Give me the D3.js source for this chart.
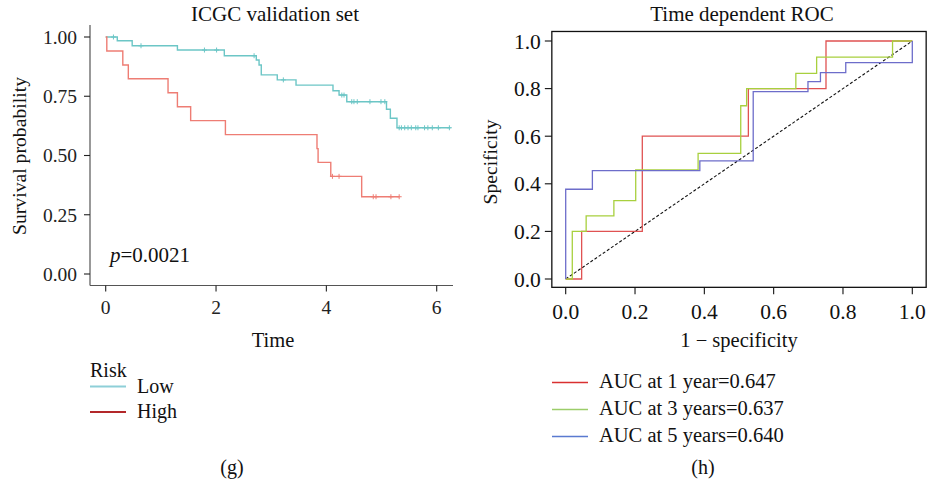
<!DOCTYPE html>
<html><head><meta charset="utf-8">
<script src="https://cdn.jsdelivr.net/npm/d3@7"></script>
<style>
body{margin:0;background:#fff;}
svg{font-family:"Liberation Serif","DejaVu Serif",serif;}
</style></head>
<body><svg id="c" width="929" height="485"></svg>
<script>
// ---------- Data: KM curves (panel g) ----------
const lowTimes = [0, 0.21, 0.48, 1.30, 2.15, 2.73, 2.78, 2.82, 3.11, 3.45, 4.12, 4.23, 4.37, 5.09, 5.16, 5.28];
const lowSurv  = [1, 0.984, 0.963, 0.945, 0.921, 0.903, 0.882, 0.840, 0.819, 0.797, 0.773, 0.755, 0.727, 0.695, 0.657, 0.617];
const lowEnd = 6.25;
const lowCensor = [0.14, 0.64, 1.79, 2.01, 2.69, 3.22, 4.28, 4.32, 4.46, 4.50, 4.56, 4.79, 4.99, 5.06,
                   5.32, 5.36, 5.42, 5.48, 5.54, 5.62, 5.66, 5.78, 5.84, 5.92, 6.03, 6.23];
const highTimes = [0, 0.02, 0.31, 0.41, 1.13, 1.30, 1.54, 2.17, 3.83, 3.85, 4.08, 4.64];
const highSurv  = [1, 0.941, 0.882, 0.824, 0.765, 0.706, 0.647, 0.588, 0.529, 0.471, 0.412, 0.326];
const highEnd = 5.32;
const highCensor = [4.11, 4.23, 4.85, 4.90, 5.17, 5.32];
const kmXTicks = [0, 2, 4, 6];
const kmYTicks = [0, 0.25, 0.5, 0.75, 1];
const riskGroups = ["Low", "High"];
const pValue = "=0.0021";

// ---------- Data: ROC curves (panel h) ----------
const roc1Fpr = [0, 0.046, 0.221, 0.527, 0.751, 1];
const roc1Tpr = [0, 0.2, 0.6, 0.8, 1.0, 1.0];
const roc3Fpr = [0, 0.019, 0.059, 0.139, 0.202, 0.382, 0.505, 0.522, 0.664, 0.724, 0.943, 1];
const roc3Tpr = [0, 0.2, 0.265, 0.329, 0.458, 0.528, 0.728, 0.8, 0.864, 0.932, 1.0, 1.0];
const roc5Fpr = [0, 0, 0.077, 0.387, 0.541, 0.699, 0.735, 0.808, 1.0];
const roc5Tpr = [0, 0.377, 0.455, 0.496, 0.787, 0.829, 0.867, 0.909, 1.0];
const rocLabels = ["AUC at 1 year=0.647", "AUC at 3 years=0.637", "AUC at 5 years=0.640"];
const rocTicks = [0, 0.2, 0.4, 0.6, 0.8, 1.0];

const svg = d3.select("#c");
const FS = 20.5;

// ================= Panel g =================
const kx = d3.scaleLinear().domain([0, 6]).range([105.7, 436.7]);
const ky = d3.scaleLinear().domain([0, 1]).range([274, 37]);
const kmLeft = 90, kmBottom = 285.5, kmRight = 453, kmTop = 25;
const lowCol = "#6cc6c6", highCol = "#ee7d74";

svg.append("text").attr("x", 275).attr("y", 21).attr("text-anchor", "middle")
  .attr("font-size", 21).attr("fill", "#111").text("ICGC validation set");

// axes
const gY = svg.append("g").attr("transform", `translate(${kmLeft},0)`);
gY.append("line").attr("x1", 0).attr("x2", 0).attr("y1", kmTop).attr("y2", kmBottom).attr("stroke", "#444").attr("stroke-width", 1.1);
kmYTicks.forEach(v => {
  gY.append("line").attr("x1", -6).attr("x2", 0).attr("y1", ky(v)).attr("y2", ky(v)).attr("stroke", "#222").attr("stroke-width", 1.1);
  gY.append("text").attr("x", -13).attr("y", ky(v)).attr("dy", "0.35em").attr("text-anchor", "end")
    .attr("font-size", 19.5).attr("fill", "#222").text(d3.format(".2f")(v));
});
const gX = svg.append("g").attr("transform", `translate(0,${kmBottom})`);
gX.append("line").attr("x1", kmLeft).attr("x2", kmRight).attr("y1", 0).attr("y2", 0).attr("stroke", "#555").attr("stroke-width", 1.1);
kmXTicks.forEach(v => {
  gX.append("line").attr("x1", kx(v)).attr("x2", kx(v)).attr("y1", 0).attr("y2", 6).attr("stroke", "#222").attr("stroke-width", 1.1);
  gX.append("text").attr("x", kx(v)).attr("y", 28).attr("text-anchor", "middle")
    .attr("font-size", 19.5).attr("fill", "#222").text(v);
});
svg.append("text").attr("x", 273).attr("y", 347).attr("text-anchor", "middle").attr("font-size", FS).attr("fill", "#111").text("Time");
svg.append("text").attr("transform", "translate(26,156) rotate(-90)").attr("text-anchor", "middle")
  .attr("font-size", 19.7).attr("fill", "#111").text("Survival probability");

function kmPts(times, surv, end) {
  const p = times.map((t, i) => [t, surv[i]]);
  p.push([end, surv[surv.length - 1]]);
  return p;
}
function survAt(times, surv, t) {
  let s = surv[0];
  for (let i = 0; i < times.length; i++) if (times[i] <= t) s = surv[i];
  return s;
}
const kmLine = d3.line().x(d => kx(d[0])).y(d => ky(d[1])).curve(d3.curveStepAfter);
function drawKM(times, surv, end, cens, col) {
  svg.append("path").attr("d", kmLine(kmPts(times, surv, end))).attr("fill", "none")
    .attr("stroke", col).attr("stroke-width", 1.4);
  cens.forEach(t => {
    const x = kx(t), y = ky(survAt(times, surv, t));
    svg.append("path").attr("d", `M${x - 2.5},${y}H${x + 2.5}M${x},${y - 2.5}V${y + 2.5}`)
      .attr("stroke", col).attr("stroke-width", 1);
  });
}
drawKM(lowTimes, lowSurv, lowEnd, lowCensor, lowCol);
drawKM(highTimes, highSurv, highEnd, highCensor, highCol);

const pt = svg.append("text").attr("x", 110).attr("y", 262).attr("font-size", 21).attr("fill", "#111");
pt.append("tspan").attr("font-style", "italic").text("p");
pt.append("tspan").text(pValue);

// legend g
svg.append("text").attr("x", 90).attr("y", 377).attr("font-size", 20).attr("fill", "#111").text("Risk");
const legCols = ["#8ecfd8", "#b3282a"];
riskGroups.forEach((g, i) => {
  const y = 386.5 + i * 25.5;
  svg.append("line").attr("x1", 90).attr("x2", 126).attr("y1", y).attr("y2", y).attr("stroke", legCols[i]).attr("stroke-width", 2);
  svg.append("text").attr("x", 137).attr("y", y + 6).attr("font-size", 20).attr("fill", "#111").text(g);
});
svg.append("text").attr("x", 232).attr("y", 474).attr("text-anchor", "middle").attr("font-size", 20).attr("fill", "#111").text("(g)");

// ================= Panel h =================
const rx = d3.scaleLinear().domain([0, 1]).range([565.7, 912.3]);
const ry = d3.scaleLinear().domain([0, 1]).range([279, 41]);
const bx0 = rx(-0.04), bx1 = rx(1.04), by0 = ry(-0.035), by1 = ry(1.04);

svg.append("text").attr("x", 742).attr("y", 21).attr("text-anchor", "middle")
  .attr("font-size", 21).attr("fill", "#111").text("Time dependent ROC");

// diagonal
svg.append("line").attr("x1", rx(0)).attr("y1", ry(0)).attr("x2", rx(1)).attr("y2", ry(1))
  .attr("stroke", "#111").attr("stroke-width", 1.1).attr("stroke-dasharray", "3,2");

const rocLine = d3.line().x(d => rx(d[0])).y(d => ry(d[1])).curve(d3.curveStepAfter);
const rocCols = ["#e05252", "#a8d03e", "#6d6dca"];
const rocData = [[roc1Fpr, roc1Tpr], [roc3Fpr, roc3Tpr], [roc5Fpr, roc5Tpr]];
rocData.forEach((d, i) => {
  const pts = d[0].map((f, j) => [f, d[1][j]]);
  svg.append("path").attr("d", rocLine(pts)).attr("fill", "none").attr("stroke", rocCols[i]).attr("stroke-width", 1.3);
});

// box
svg.append("rect").attr("x", bx0).attr("y", by1).attr("width", bx1 - bx0).attr("height", by0 - by1)
  .attr("fill", "none").attr("stroke", "#111").attr("stroke-width", 1.3);
rocTicks.forEach(v => {
  svg.append("line").attr("x1", bx0 - 7).attr("x2", bx0).attr("y1", ry(v)).attr("y2", ry(v)).attr("stroke", "#111").attr("stroke-width", 1.1);
  svg.append("text").attr("x", bx0 - 11).attr("y", ry(v)).attr("dy", "0.35em").attr("text-anchor", "end")
    .attr("font-size", 21.5).attr("fill", "#111").text(d3.format(".1f")(v));
  svg.append("line").attr("x1", rx(v)).attr("x2", rx(v)).attr("y1", by0).attr("y2", by0 + 7).attr("stroke", "#111").attr("stroke-width", 1.1);
  svg.append("text").attr("x", rx(v)).attr("y", 319).attr("text-anchor", "middle")
    .attr("font-size", 21.5).attr("fill", "#111").text(d3.format(".1f")(v));
});
svg.append("text").attr("x", 739).attr("y", 347).attr("text-anchor", "middle").attr("font-size", FS).attr("fill", "#111").text("1 \u2212 specificity");
svg.append("text").attr("transform", "translate(497,162) rotate(-90)").attr("text-anchor", "middle")
  .attr("font-size", 19.6).attr("fill", "#111").text("Specificity");

// legend h
const legRocCols = ["#d93030", "#9ccd6a", "#5a7ad0"];
rocLabels.forEach((l, i) => {
  const y = Math.round(381.5 + i * 27) + 0.5;
  svg.append("line").attr("x1", 552).attr("x2", 588).attr("y1", y).attr("y2", y).attr("stroke", legRocCols[i]).attr("stroke-width", 1.5);
  svg.append("text").attr("x", 599).attr("y", y + 5.5).attr("font-size", FS).attr("fill", "#111").text(l);
});
svg.append("text").attr("x", 703).attr("y", 474).attr("text-anchor", "middle").attr("font-size", 20).attr("fill", "#111").text("(h)");
</script></body></html>
